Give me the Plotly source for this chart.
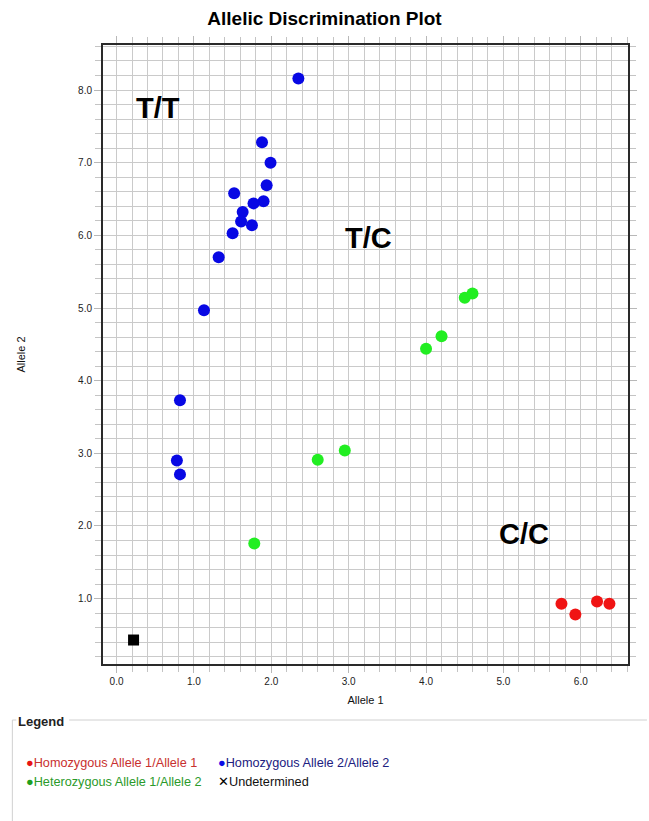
import plotly.graph_objects as go

# ---- data ----
hom1_x = [5.75, 5.93, 6.21, 6.37]
hom1_y = [0.93, 0.78, 0.96, 0.93]

hom2_x = [2.35, 1.88, 1.99, 1.94, 1.52, 1.90, 1.77, 1.63, 1.61, 1.75, 1.50, 1.32, 1.13, 0.82, 0.78, 0.82]
hom2_y = [8.16, 7.28, 7.00, 6.69, 6.58, 6.47, 6.44, 6.32, 6.19, 6.14, 6.03, 5.70, 4.97, 3.73, 2.90, 2.71]

het_x = [4.50, 4.60, 4.20, 4.00, 2.95, 2.60, 1.78]
het_y = [5.14, 5.20, 4.61, 4.44, 3.04, 2.91, 1.76]

und_x = [0.22]
und_y = [0.43]

region_labels = ["T/T", "T/C", "C/C"]
region_x = [0.54, 3.25, 5.27]
region_y = [7.75, 5.97, 1.89]

x_ticks = [0, 1, 2, 3, 4, 5, 6]
y_ticks = [1, 2, 3, 4, 5, 6, 7, 8]

legend_names = ["Homozygous Allele 1/Allele 1", "Homozygous Allele 2/Allele 2",
                "Heterozygous Allele 1/Allele 2", "Undetermined"]

FONT = "Liberation Sans, Arial, sans-serif"
W, H = 649, 821
ML, MR, MT, MB = 103, 19, 45, 157
PW, PH = W - ML - MR, H - MT - MB


def px(xp):
    return (xp - ML) / PW


def py(yp):
    return (H - MB - yp) / PH


fig = go.Figure()
fig.add_trace(go.Scatter(x=hom1_x, y=hom1_y, mode="markers", name=legend_names[0],
                         marker=dict(color="#f01414", size=12, line=dict(width=0))))
fig.add_trace(go.Scatter(x=hom2_x, y=hom2_y, mode="markers", name=legend_names[1],
                         marker=dict(color="#0808e4", size=12, line=dict(width=0))))
fig.add_trace(go.Scatter(x=het_x, y=het_y, mode="markers", name=legend_names[2],
                         marker=dict(color="#22ee22", size=12, line=dict(width=0))))
fig.add_trace(go.Scatter(x=und_x, y=und_y, mode="markers", name=legend_names[3],
                         marker=dict(color="#000000", size=11, symbol="square", line=dict(width=0))))

for t, xx, yy in zip(region_labels, region_x, region_y):
    fig.add_annotation(x=xx, y=yy, xref="x", yref="y", text="<b>%s</b>" % t, showarrow=False,
                       font=dict(family=FONT, size=29, color="#000000"))

axis_common = dict(
    showgrid=True, gridcolor="#cacaca", gridwidth=1,
    zeroline=False, showline=True, linecolor="#2a2a2a", linewidth=2, mirror="allticks",
    ticks="outside", ticklen=7, tickcolor="#b8b8b8", tickwidth=1,
    tickformat=".1f", tickfont=dict(family=FONT, size=10, color="#222222"),
    minor=dict(dtick=0.2, showgrid=True, gridcolor="#cacaca", gridwidth=1,
               ticks="outside", ticklen=6, tickcolor="#c4c4c4"),
)

fig.update_xaxes(range=[-0.175, 6.61], tickvals=x_ticks,
                 title=dict(text="Allele 1", font=dict(family=FONT, size=11, color="#111"), standoff=10),
                 **axis_common)
fig.update_yaxes(range=[0.10, 8.62], tickvals=y_ticks,
                 title=dict(text="Allele 2", font=dict(family=FONT, size=11, color="#111"), standoff=50),
                 **axis_common)

# Legend panel
fig.add_annotation(xref="paper", yref="paper", x=px(16), y=py(721), xanchor="left", yanchor="middle",
                   text="<b>Legend</b>", showarrow=False, font=dict(family=FONT, size=13, color="#222"))
line_col = "#d0d0d0"
fig.add_shape(type="line", xref="paper", yref="paper", x0=px(12), x1=px(16), y0=py(720), y1=py(720),
              line=dict(color=line_col, width=1))
fig.add_shape(type="line", xref="paper", yref="paper", x0=px(69), x1=px(649), y0=py(720), y1=py(720),
              line=dict(color=line_col, width=1))
fig.add_shape(type="line", xref="paper", yref="paper", x0=px(12), x1=px(12), y0=py(720), y1=py(821),
              line=dict(color=line_col, width=1))

entries = [
    (legend_names[0], "#e81414", "●", "#c8302e", 24, 763),
    (legend_names[1], "#0a0ae6", "●", "#202080", 216, 763),
    (legend_names[2], "#1ea01e", "●", "#2a9a2a", 24, 782),
    (legend_names[3], "#000000", "✕", "#111111", 216, 782),
]
for name, mcol, sym, tcol, xx, yy in entries:
    fig.add_annotation(xref="paper", yref="paper", x=px(xx), y=py(yy), xanchor="left", yanchor="middle",
                       showarrow=False,
                       text="<span style='color:%s'>%s</span><span style='color:%s'>%s</span>" % (mcol, sym, tcol, name),
                       font=dict(family=FONT, size=12.7))

fig.update_layout(
    width=W, height=H, autosize=False,
    margin=dict(l=ML, r=MR, t=MT, b=MB, pad=0),
    paper_bgcolor="#ffffff", plot_bgcolor="#ffffff",
    showlegend=False,
    title=dict(text="<b>Allelic Discrimination Plot</b>", x=0.5, xanchor="center", y=1 - 18 / H,
               yanchor="middle", font=dict(family=FONT, size=19, color="#000")),
)

fig.write_html("out.html")
